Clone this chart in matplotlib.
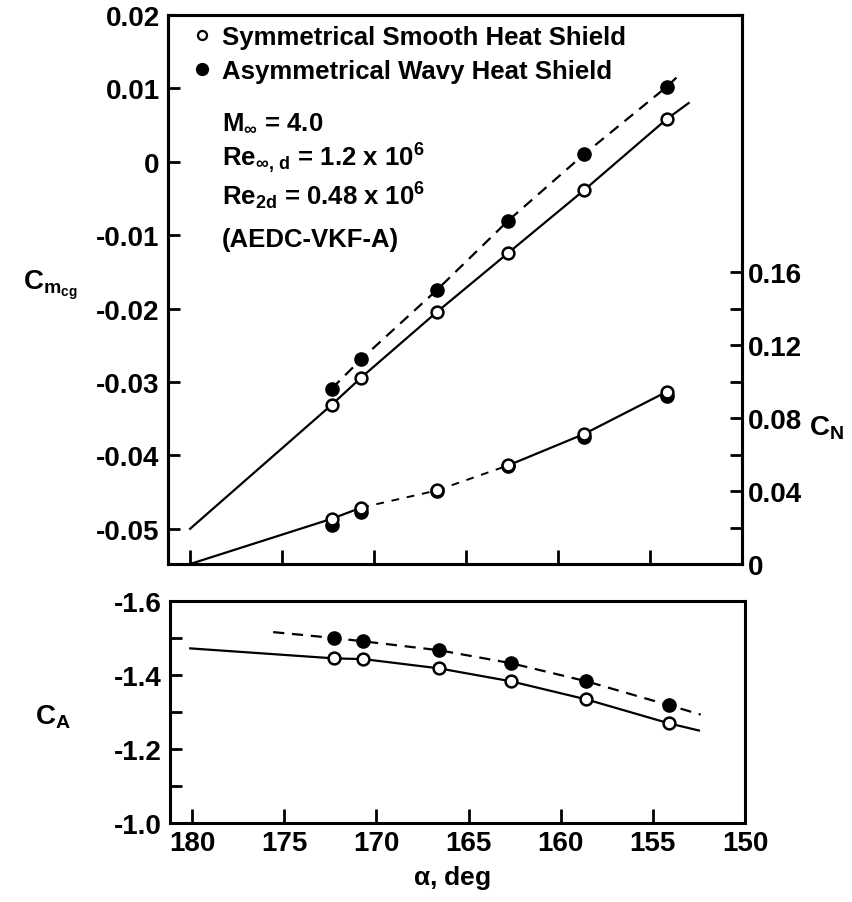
import matplotlib
matplotlib.use("Agg")
import matplotlib.pyplot as plt
from matplotlib.lines import Line2D

# ---------------- data ----------------
alpha = [172.3, 170.7, 166.6, 162.7, 158.6, 154.1]

cm_sym = [-0.0331, -0.0294, -0.0205, -0.0124, -0.0039, 0.0058]
cm_asym = [-0.0309, -0.0269, -0.0175, -0.0080, 0.0010, 0.0102]

cn_sym = [0.0248, 0.0309, 0.0403, 0.0541, 0.0712, 0.0944]
cn_asym = [0.0215, 0.0287, 0.0400, 0.0535, 0.0695, 0.0922]

ca_sym = [-1.445, -1.443, -1.418, -1.383, -1.334, -1.269]
ca_asym = [-1.500, -1.491, -1.467, -1.432, -1.383, -1.318]

# faired curves
cm_sym_fair_a = [180.0, 172.3, 170.7, 166.6, 162.7, 158.6, 154.1, 152.9]
cm_sym_fair_v = [-0.0500, -0.0331, -0.0294, -0.0205, -0.0124, -0.0039, 0.0058, 0.0080]
cm_asym_fair_a = [172.3, 170.7, 166.6, 162.7, 158.6, 154.1, 153.3]
cm_asym_fair_v = [-0.0309, -0.0269, -0.0175, -0.0080, 0.0010, 0.0102, 0.0121]

cn_solid1_a = [180.0, 172.3, 170.7]
cn_solid1_v = [0.0, 0.0248, 0.0309]
cn_dash_a = [170.7, 166.6, 162.7]
cn_dash_v = [0.0309, 0.0403, 0.0541]
cn_solid2_a = [162.7, 158.6, 154.1]
cn_solid2_v = [0.0541, 0.0712, 0.0944]

ca_sym_fair_a = [180.1, 172.3, 170.7, 166.6, 162.7, 158.6, 154.1, 152.5]
ca_sym_fair_v = [-1.472, -1.445, -1.443, -1.418, -1.383, -1.334, -1.269, -1.250]
ca_asym_fair_a = [175.6, 172.3, 170.7, 166.6, 162.7, 158.6, 154.1, 152.4]
ca_asym_fair_v = [-1.516, -1.500, -1.491, -1.467, -1.432, -1.383, -1.318, -1.293]

x_ticks = [180, 175, 170, 165, 160, 155, 150]
x_ticklabels = ["180", "175", "170", "165", "160", "155", "150"]
cm_ticks = [0.02, 0.01, 0.0, -0.01, -0.02, -0.03, -0.04, -0.05]
cm_ticklabels = ["0.02", "0.01", "0", "-0.01", "-0.02", "-0.03", "-0.04", "-0.05"]
cn_ticks = [0.0, 0.04, 0.08, 0.12, 0.16]
cn_ticklabels = ["0", "0.04", "0.08", "0.12", "0.16"]
cn_minor = [0.02, 0.06, 0.10, 0.14]
ca_ticks = [-1.6, -1.4, -1.2, -1.0]
ca_ticklabels = ["-1.6", "-1.4", "-1.2", "-1.0"]
ca_minor = [-1.5, -1.3, -1.1]

legend_labels = ["Symmetrical Smooth Heat Shield", "Asymmetrical Wavy Heat Shield"]
cond_lines = [r"M$_{\infty}$ = 4.0",
              r"Re$_{\infty,\,d}$ = 1.2 x 10$^{6}$",
              r"Re$_{2d}$ = 0.48 x 10$^{6}$",
              "(AEDC-VKF-A)"]

# ---------------- style ----------------
FAM = ["Liberation Sans", "DejaVu Sans"]
plt.rcParams["font.family"] = FAM
plt.rcParams["font.weight"] = "bold"
plt.rcParams["axes.labelweight"] = "bold"
plt.rcParams["mathtext.fontset"] = "custom"
plt.rcParams["mathtext.rm"] = "Liberation Sans:bold"
plt.rcParams["mathtext.it"] = "Liberation Sans:bold"
plt.rcParams["mathtext.bf"] = "Liberation Sans:bold"
plt.rcParams["mathtext.default"] = "rm"

SPW = 2.2
LW = 1.6
MS_O = 8.5
MS_F = 9.5
TXT = 18.5

fig = plt.figure(figsize=(8.52, 9.03), dpi=100)
ax1 = fig.add_axes([0.1972, 0.3743, 0.6737, 0.608])
ax2 = fig.add_axes([0.1995, 0.0875, 0.6749, 0.2458])
axn = ax1.twinx()

tickfont = dict(size=20, weight="bold")

# ---- top: Cm ----
ax1.plot(cm_sym_fair_a, cm_sym_fair_v, color="black", lw=LW, zorder=2)
ax1.plot(cm_asym_fair_a, cm_asym_fair_v, color="black", lw=LW, ls=(0, (5, 3.5)), zorder=2)
ax1.plot(alpha, cm_asym, "o", ms=MS_F, color="black", zorder=3)
ax1.plot(alpha, cm_sym, "o", ms=MS_O, mfc="white", mec="black", mew=1.8, zorder=4)

# ---- top: CN ----
axn.plot(cn_solid1_a, cn_solid1_v, color="black", lw=LW, zorder=2)
axn.plot(cn_dash_a, cn_dash_v, color="black", lw=1.4, ls=(0, (4, 4)), zorder=2)
axn.plot(cn_solid2_a, cn_solid2_v, color="black", lw=LW, zorder=2)
axn.plot(alpha, cn_asym, "o", ms=MS_F, color="black", zorder=3)
axn.plot(alpha, cn_sym, "o", ms=MS_O, mfc="white", mec="black", mew=1.8, zorder=4)

ax1.set_xlim(181.2, 150)
ax1.set_ylim(-0.0548, 0.02)
axn.set_ylim(0, 0.301)

ax1.set_xticks(x_ticks[:-1])
ax1.set_xticklabels([])
ax1.set_yticks(cm_ticks)
ax1.set_yticklabels(cm_ticklabels, fontdict=tickfont)
ax1.tick_params(axis="both", direction="in", length=8.5, width=2, pad=6)
ax1.tick_params(axis="x", length=10)
axn.set_yticks(cn_ticks)
axn.set_yticklabels(cn_ticklabels, fontdict=tickfont)
axn.set_yticks(cn_minor, minor=True)
axn.tick_params(axis="y", which="both", direction="in", length=9, width=2, pad=4)

for a in (ax1, axn, ax2):
    for s in a.spines.values():
        s.set_linewidth(SPW)

ax1.set_ylabel(r"C$_{m_{cg}}$", fontsize=20, rotation=0, va="center", ha="center")
ax1.yaxis.set_label_coords(-0.205, 0.51)
axn.set_ylabel(r"C$_{N}$", fontsize=20, rotation=0, va="center", ha="center")
axn.yaxis.set_label_coords(1.148, 0.25)

handles = [Line2D([], [], ls="none", marker="o", ms=6.5, mfc="white", mec="black", mew=1.6),
           Line2D([], [], ls="none", marker="o", ms=8.5, color="black")]
leg = ax1.legend(handles, legend_labels, loc="upper left", bbox_to_anchor=(0.045, 0.982),
                 frameon=False, prop=dict(size=TXT, weight="bold"),
                 handlelength=0.6, handletextpad=0.5,
                 labelspacing=0.4, borderpad=0.0, borderaxespad=0.0)

cond_y = [0.806, 0.740, 0.672, 0.592]
for txt, yy in zip(cond_lines, cond_y):
    ax1.text(0.094, yy, txt, transform=ax1.transAxes, fontsize=TXT, va="center", ha="left")

# ---- bottom: CA ----
ax2.plot(ca_sym_fair_a, ca_sym_fair_v, color="black", lw=LW, zorder=2)
ax2.plot(ca_asym_fair_a, ca_asym_fair_v, color="black", lw=LW, ls=(0, (5, 3.5)), zorder=2)
ax2.plot(alpha, ca_asym, "o", ms=MS_F, color="black", zorder=3)
ax2.plot(alpha, ca_sym, "o", ms=MS_O, mfc="white", mec="black", mew=1.8, zorder=4)

ax2.set_xlim(181.2, 150)
ax2.set_ylim(-1.0, -1.6)
ax2.set_xticks(x_ticks)
ax2.set_xticklabels(x_ticklabels, fontdict=tickfont)
ax2.set_yticks(ca_ticks)
ax2.set_yticklabels(ca_ticklabels, fontdict=tickfont)
ax2.set_yticks(ca_minor, minor=True)
ax2.tick_params(axis="both", which="both", direction="in", length=8.5, width=2, pad=6)
ax2.tick_params(axis="x", length=10, pad=5)

ax2.set_ylabel(r"C$_{A}$", fontsize=20, rotation=0, va="center", ha="center")
ax2.yaxis.set_label_coords(-0.203, 0.48)
ax2.set_xlabel(r"$\alpha$, deg", fontsize=19, va="center")
ax2.xaxis.set_label_coords(0.49, -0.245)

fig.savefig("out.png", dpi=100)
